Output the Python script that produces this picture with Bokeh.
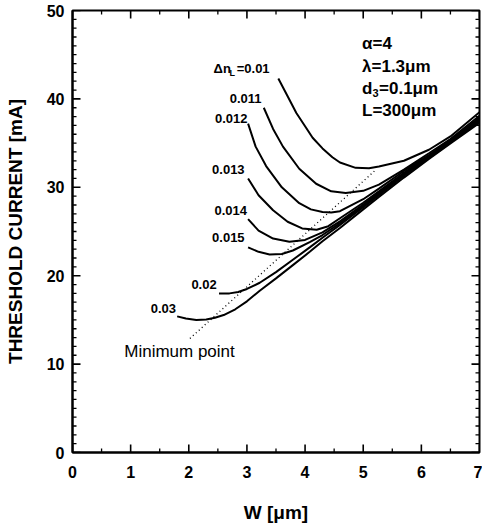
from bokeh.plotting import figure
from bokeh.models import ColumnDataSource, SingleIntervalTicker, Range1d
from bokeh.core.properties import value
from bokeh.embed import file_html
from bokeh.resources import INLINE

# ---- data ----
dn_labels = ["0.01", "0.011", "0.012", "0.013", "0.014", "0.015", "0.02", "0.03"]

w_001 = [3.54, 3.70, 3.85, 4.00, 4.13, 4.30, 4.47, 4.60, 4.87, 5.10, 5.27, 5.70, 6.13, 6.50, 7.00]
i_001 = [42.3, 40.3, 38.4, 36.9, 35.6, 34.4, 33.4, 32.8, 32.2, 32.15, 32.35, 33.0, 34.25, 35.75, 38.5]

w_0011 = [3.29, 3.45, 3.62, 3.90, 4.19, 4.45, 4.70, 5.00, 5.27, 5.70, 6.13, 6.50, 7.00]
i_0011 = [39.0, 36.6, 34.6, 32.1, 30.4, 29.55, 29.35, 29.6, 30.3, 32.0, 33.85, 35.45, 38.1]

w_0012 = [3.02, 3.15, 3.33, 3.60, 3.90, 4.10, 4.30, 4.45, 4.60, 5.00, 5.27, 5.70, 6.13, 6.50, 7.00]
i_0012 = [37.2, 34.6, 32.4, 30.0, 28.2, 27.5, 27.2, 27.15, 27.3, 28.65, 29.85, 31.85, 33.65, 35.3, 37.9]

w_0013 = [3.02, 3.20, 3.45, 3.70, 3.95, 4.20, 4.40, 4.60, 5.00, 5.27, 5.70, 6.13, 6.50, 7.00]
i_0013 = [31.0, 29.1, 27.4, 26.1, 25.35, 25.2, 25.6, 26.5, 28.25, 29.55, 31.65, 33.55, 35.2, 37.75]

w_0014 = [3.02, 3.20, 3.45, 3.73, 4.00, 4.30, 4.60, 5.00, 5.27, 5.70, 6.13, 6.50, 7.00]
i_0014 = [26.4, 25.1, 24.2, 23.85, 24.05, 24.9, 26.15, 28.05, 29.4, 31.5, 33.45, 35.15, 37.65]

w_0015 = [3.02, 3.20, 3.39, 3.60, 3.79, 4.08, 4.30, 4.60, 5.00, 5.27, 5.70, 6.13, 6.50, 7.00]
i_0015 = [23.2, 22.7, 22.4, 22.45, 22.85, 23.8, 24.6, 25.95, 27.9, 29.25, 31.4, 33.4, 35.1, 37.55]

w_002 = [2.52, 2.70, 2.85, 3.00, 3.22, 3.50, 3.79, 4.08, 4.30, 4.60, 5.00, 5.27, 5.70, 6.13, 6.50, 7.00]
i_002 = [18.0, 18.0, 18.15, 18.5, 19.2, 20.4, 21.8, 23.2, 24.3, 25.75, 27.75, 29.1, 31.3, 33.3, 35.05, 37.45]

w_003 = [1.80, 1.95, 2.13, 2.30, 2.45, 2.60, 2.80, 3.00, 3.22, 3.50, 3.79, 4.08, 4.30, 4.60,
         5.00, 5.27, 5.70, 6.13, 6.50, 7.00]
i_003 = [15.4, 15.15, 15.0, 15.05, 15.25, 15.55, 16.2, 17.1, 18.3, 19.7, 21.2, 22.7, 23.9, 25.4,
         27.5, 28.9, 31.1, 33.2, 34.95, 37.3]

min_w = [2.02, 5.22]
min_i = [12.9, 32.0]

curves_w = [w_001, w_0011, w_0012, w_0013, w_0014, w_0015, w_002, w_003]
curves_i = [i_001, i_0011, i_0012, i_0013, i_0014, i_0015, i_002, i_003]

# label anchor positions (right end of each label)
lab_x = [3.39, 3.25, 3.01, 2.96, 3.00, 2.96, 2.48, 1.78]
lab_y = [43.4, 40.1, 37.8, 32.0, 27.4, 24.3, 18.95, 16.3]

# axis ticks
x_major = [0, 1, 2, 3, 4, 5, 6, 7]
x_minor = [0.5, 1.5, 2.5, 3.5, 4.5, 5.5, 6.5]
y_major = [0, 10, 20, 30, 40, 50]
y_minor = [1, 2, 3, 4, 5, 6, 7, 8, 9, 11, 12, 13, 14, 15, 16, 17, 18, 19,
           21, 22, 23, 24, 25, 26, 27, 28, 29, 31, 32, 33, 34, 35, 36, 37, 38, 39,
           41, 42, 43, 44, 45, 46, 47, 48, 49]
X_MIN, X_MAX, Y_MIN, Y_MAX = 0, 7, 0, 50

BOLD = "bold"
FONT = value("Liberation Sans")

W, H = 482, 525
BL, BR, BT, BB = 72, 3, 10, 71

p = figure(width=W, height=H, output_backend="svg", toolbar_location=None,
           x_range=Range1d(X_MIN, X_MAX), y_range=Range1d(Y_MIN, Y_MAX),
           min_border_left=BL, min_border_right=BR, min_border_top=BT, min_border_bottom=BB)
p.background_fill_color = "white"
p.border_fill_color = "white"
p.grid.visible = False
p.outline_line_color = "black"
p.outline_line_width = 2

for ax in (p.xaxis[0], p.yaxis[0]):
    ax.axis_line_width = 2
    ax.axis_line_color = "black"
    ax.major_tick_in = 0
    ax.major_tick_out = 0
    ax.minor_tick_in = 0
    ax.minor_tick_out = 0
    ax.major_label_text_font = "Liberation Sans"
    ax.major_label_text_font_style = "bold"
    ax.major_label_text_font_size = "16px"
    ax.major_label_text_color = "black"
    ax.axis_label_text_font = "Liberation Sans"
    ax.axis_label_text_font_style = "bold"
    ax.axis_label_text_font_size = "19px"
    ax.axis_label_text_color = "black"

p.xaxis.ticker = SingleIntervalTicker(interval=1, num_minor_ticks=2)
p.yaxis.ticker = SingleIntervalTicker(interval=10, num_minor_ticks=10)
p.xaxis.axis_label = "W [μm]"
p.yaxis.axis_label = "THRESHOLD CURRENT [mA]"
p.xaxis.major_label_standoff = 13
p.yaxis.major_label_standoff = 8
p.xaxis.axis_label_standoff = 21
p.yaxis.axis_label_standoff = 18

# inward ticks on all four sides, drawn as short segments (length in pixels -> data)
frame_w = W - BL - BR
frame_h = H - BT - BB
dx_px = (X_MAX - X_MIN) / frame_w
dy_px = (Y_MAX - Y_MIN) / frame_h
MAJ, MIN = 8, 4
TICK_COLOR = "black"

def tick_seg(x0, y0, x1, y1, width):
    src = ColumnDataSource(dict(x0=list(x0), y0=list(y0), x1=list(x1), y1=list(y1)))
    p.segment(x0="x0", y0="y0", x1="x1", y1="y1", source=src,
              line_color=TICK_COLOR, line_width=width)

# bottom / top
tick_seg(x_major, [Y_MIN] * 8, x_major, [Y_MIN + MAJ * dy_px] * 8, 1.6)
tick_seg(x_minor, [Y_MIN] * 7, x_minor, [Y_MIN + MIN * dy_px] * 7, 1.3)
tick_seg(x_major, [Y_MAX] * 8, x_major, [Y_MAX - MAJ * dy_px] * 8, 1.6)
tick_seg(x_minor, [Y_MAX] * 7, x_minor, [Y_MAX - MIN * dy_px] * 7, 1.3)
# left / right
ny, nm = len(y_major), len(y_minor)
tick_seg([X_MIN] * ny, y_major, [X_MIN + MAJ * dx_px] * ny, y_major, 1.6)
tick_seg([X_MIN] * nm, y_minor, [X_MIN + MIN * dx_px] * nm, y_minor, 1.3)
tick_seg([X_MAX] * ny, y_major, [X_MAX - MAJ * dx_px] * ny, y_major, 1.6)
tick_seg([X_MAX] * nm, y_minor, [X_MAX - MIN * dx_px] * nm, y_minor, 1.3)

for w, i in zip(curves_w, curves_i):
    src = ColumnDataSource(dict(w=w, i=i))
    p.line("w", "i", source=src, line_color="black", line_width=2)

p.line(min_w, min_i, line_color="black", line_width=1.3, line_dash="1 3")

# curve labels (first one has the delta-n prefix drawn separately)
src_lab = ColumnDataSource(dict(x=lab_x[1:], y=lab_y[1:], t=dn_labels[1:]))
p.text("x", "y", "t", source=src_lab, text_font=FONT, text_font_style=BOLD,
       text_font_size="13px", text_align="right", text_baseline="middle", text_color="black")
p.text([lab_x[0]], [lab_y[0]], ["=" + dn_labels[0]], text_font=FONT, text_font_style=BOLD,
       text_font_size="13px", text_align="right", text_baseline="middle", text_color="black")
p.text([lab_x[0]], [lab_y[0]], ["Δn"], x_offset=-56, text_font=FONT, text_font_style=BOLD,
       text_font_size="13px", text_align="left", text_baseline="middle", text_color="black")
p.text([lab_x[0]], [lab_y[0]], ["L"], x_offset=-40, y_offset=4, text_font=FONT, text_font_style=BOLD,
       text_font_size="9px", text_align="left", text_baseline="middle", text_color="black")

p.text([0.89], [11.4], ["Minimum point"], text_font=FONT, text_font_size="17px",
       text_align="left", text_baseline="middle", text_color="black")

# parameter block
px0 = 4.98
p.text([px0, px0, px0], [46.3, 43.7, 38.7], ["α=4", "λ=1.3μm", "L=300μm"], text_font=FONT,
       text_font_style=BOLD, text_font_size="17px", text_align="left", text_baseline="middle",
       text_color="black")
p.text([px0], [41.2], ["d"], text_font=FONT, text_font_style=BOLD, text_font_size="17px",
       text_align="left", text_baseline="middle", text_color="black")
p.text([px0], [41.2], ["3"], x_offset=10.5, y_offset=5, text_font=FONT, text_font_style=BOLD,
       text_font_size="11px", text_align="left", text_baseline="middle", text_color="black")
p.text([px0], [41.2], ["=0.1μm"], x_offset=17, text_font=FONT, text_font_style=BOLD,
       text_font_size="17px", text_align="left", text_baseline="middle", text_color="black")

open("out.html", "w").write(file_html(p, INLINE))
